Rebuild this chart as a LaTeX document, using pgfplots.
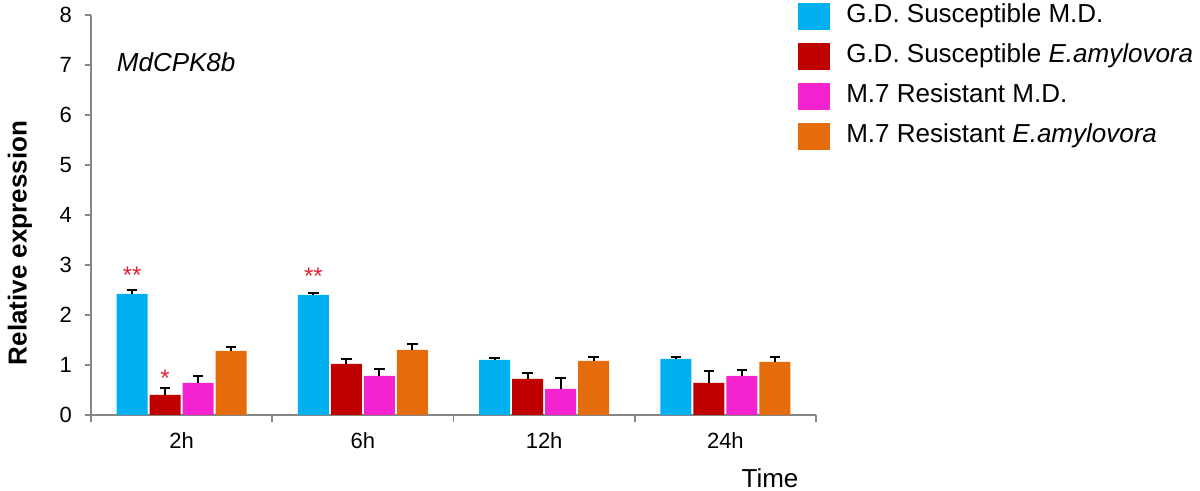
\documentclass[border=0pt]{standalone}
\usepackage{pgfplots}
\pgfplotsset{compat=1.18}
\usepackage{pgfplotstable}
\usepackage{fontspec}
\setmainfont{Liberation Sans}
\usetikzlibrary{calc}

\definecolor{cBlue}{HTML}{00B0F0}
\definecolor{cRed}{HTML}{C00000}
\definecolor{cPink}{HTML}{F522CF}
\definecolor{cOrange}{HTML}{E46C0A}
\definecolor{axisgray}{HTML}{868686}
\definecolor{starred}{HTML}{E0202E}

% x = category centre, value, upper error
\pgfplotstableread{
x    gdmd gdmdE gdea gdeaE m7md m7mdE m7ea m7eaE
0.5  2.42 0.08  0.40 0.14  0.64 0.14  1.28 0.08
1.5  2.40 0.04  1.02 0.10  0.78 0.14  1.30 0.12
2.5  1.10 0.04  0.72 0.12  0.52 0.22  1.08 0.08
3.5  1.12 0.04  0.64 0.24  0.78 0.12  1.06 0.10
}\expr

\begin{document}
\begin{tikzpicture}
\useasboundingbox (0,0) rectangle (600pt,245.5pt);
\begin{axis}[
    at={(45.5pt,38pt)}, anchor=south west,
    scale only axis, width=362.5pt, height=200pt,
    xmin=0, xmax=4, ymin=0, ymax=8,
    axis x line*=bottom, axis y line*=left,
    axis line style={axisgray, line width=0.8pt},
    ytick={0,1,...,8},
    xtick={0.5,1.5,2.5,3.5}, xticklabels={2h,6h,12h,24h},
    minor xtick={0,1,2,3,4},
    major x tick style={draw=none},
    tick align=outside, major tick length=3pt, minor tick length=3.5pt,
    every tick/.style={axisgray, line width=0.8pt},
    tick label style={font=\fontsize{11}{13}\selectfont},
    yticklabel style={xshift=-3pt},
    xticklabel style={yshift=-2.5pt},
    /pgf/number format/assume math mode=true,
    ybar=1pt, bar width=15.5pt,
    clip=false,
    error bars/y dir=plus, error bars/y explicit,
    error bars/error bar style={black, line width=1pt},
    error bars/error mark options={black, rotate=90, mark size=2.6pt, line width=1pt},
    legend style={at={(0.975,1)}, anchor=north west, yshift=6pt,
        draw=none, fill=none, inner sep=0pt,
        font=\fontsize{13}{15}\selectfont,
        row sep=6.5pt, column sep=8pt,
        nodes={inner sep=0pt, text height=7pt, text depth=2.7pt}},
    legend cell align=left,
    legend image code/.code={\fill[#1,draw=none] (0pt,-6pt) rectangle (16pt,7.5pt);},
]
\addplot[fill=cBlue, draw=none] table[x=x, y=gdmd, y error=gdmdE]{\expr};
\addplot[fill=cRed, draw=none] table[x=x, y=gdea, y error=gdeaE]{\expr};
\addplot[fill=cPink, draw=none] table[x=x, y=m7md, y error=m7mdE]{\expr};
\addplot[fill=cOrange, draw=none] table[x=x, y=m7ea, y error=m7eaE]{\expr};
\legend{G.D. Susceptible M.D., G.D. Susceptible \textit{E.amylovora}, M.7 Resistant M.D., M.7 Resistant \textit{E.amylovora}}

\node[text=starred, font=\fontsize{12}{12}\selectfont] at ($(axis cs:0.5,2.80)+(-24.75pt,0)$) {**};
\node[text=starred, font=\fontsize{12}{12}\selectfont] at ($(axis cs:0.5,0.74)+(-8.25pt,0)$) {*};
\node[text=starred, font=\fontsize{12}{12}\selectfont] at ($(axis cs:1.5,2.78)+(-24.75pt,0)$) {**};

\node[anchor=west, font=\itshape\fontsize{13}{15}\selectfont] at (rel axis cs:0.026,0.8825) {MdCPK8b};
\node[font=\fontsize{13}{15}\selectfont] at ($(rel axis cs:0.9366,0)+(0,-31.5pt)$) {Time};
\node[rotate=90, font=\bfseries\fontsize{13}{15}\selectfont] at ($(rel axis cs:0,0.43)+(-35.5pt,0)$) {Relative expression};
\end{axis}
\end{tikzpicture}
\end{document}
